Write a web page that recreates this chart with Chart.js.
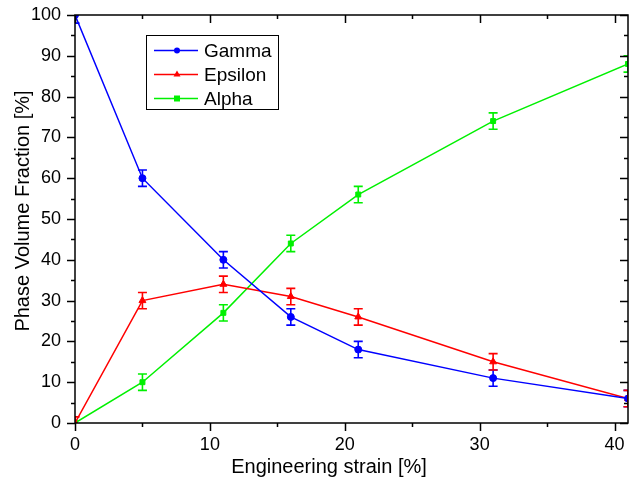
<!DOCTYPE html>
<html>
<head>
<meta charset="utf-8">
<script src="https://cdn.jsdelivr.net/npm/chart.js@4"></script>
<style>
  html, body { margin: 0; padding: 0; background: #fff; }
  #wrap { width: 630px; height: 487px; }
</style>
</head>
<body>
<div id="wrap"><canvas id="myChart"></canvas></div>
<script>
const strain = [0, 5, 11, 16, 21, 31, 41];
const gamma = [100, 60, 40, 26, 18, 11, 6];
const epsilon = [0, 30, 34, 31, 26, 15, 6];
const alpha = [0, 10, 27, 44, 56, 74, 88];
const gammaErr = [2, 2, 2, 2, 2, 2, 2];
const epsilonErr = [1.5, 2, 2, 2, 2, 2, 2];
const alphaErr = [0, 2, 2, 2, 2, 2, 2];
const xTicks = [0, 10, 20, 30, 40];

const FONT = "'Liberation Sans', Arial, sans-serif";

function toPoints(ys) {
    return strain.map((x, i) => ({ x: x, y: ys[i] }));
}

// vertical error bars with caps
const errorBars = {
    id: "errorBars",
    afterDatasetsDraw(chart) {
        const ctx = chart.ctx;
        const area = chart.chartArea;
        const xs = chart.scales.x, ys = chart.scales.y;
        ctx.save();
        ctx.beginPath();
        ctx.rect(area.left, area.top, area.right - area.left, area.bottom - area.top);
        ctx.clip();
        chart.data.datasets.forEach(ds => {
            ctx.strokeStyle = ds.borderColor;
            ctx.lineWidth = 1.6;
            ds.data.forEach((p, i) => {
                const e = ds.errors[i];
                if (!e) return;
                const px = xs.getPixelForValue(p.x);
                const top = ys.getPixelForValue(p.y + e);
                const bot = ys.getPixelForValue(p.y - e);
                ctx.beginPath();
                ctx.moveTo(px, top); ctx.lineTo(px, bot);
                ctx.moveTo(px - 4.5, top); ctx.lineTo(px + 4.5, top);
                ctx.moveTo(px - 4.5, bot); ctx.lineTo(px + 4.5, bot);
                ctx.stroke();
            });
        });
        ctx.restore();
    }
};

// frame, ticks, axis titles and legend box
const frame = {
    id: "frame",
    afterDraw(chart) {
        const ctx = chart.ctx;
        const a = chart.chartArea;
        const xs = chart.scales.x, ys = chart.scales.y;
        ctx.save();
        ctx.strokeStyle = "#000";
        ctx.lineWidth = 1.5;
        ctx.strokeRect(a.left, a.top, a.right - a.left, a.bottom - a.top);
        ctx.beginPath();
        for (let v = 0; v <= 41; v += 5) {
            const px = Math.round(xs.getPixelForValue(v)) + 0.5;
            const len = v % 10 === 0 ? 8 : 4;
            ctx.moveTo(px, a.bottom); ctx.lineTo(px, a.bottom + len);
            ctx.moveTo(px, a.top); ctx.lineTo(px, a.top + len);
        }
        for (let v = 0; v <= 100; v += 5) {
            const py = Math.round(ys.getPixelForValue(v)) + 0.5;
            const len = v % 10 === 0 ? 8 : 4;
            ctx.moveTo(a.left, py); ctx.lineTo(a.left - len, py);
            ctx.moveTo(a.right, py); ctx.lineTo(a.right - len, py);
        }
        ctx.stroke();

        // axis titles
        ctx.fillStyle = "#000";
        ctx.font = "20px " + FONT;
        ctx.textAlign = "center";
        ctx.textBaseline = "middle";
        ctx.fillText("Engineering strain [%]", 329, 467);
        ctx.save();
        ctx.translate(23, 211);
        ctx.rotate(-Math.PI / 2);
        ctx.fillText("Phase Volume Fraction [%]", 0, 0);
        ctx.restore();

        // legend
        const bx = 146, by = 35, bw = 132, bh = 74;
        ctx.fillStyle = "#fff";
        ctx.fillRect(bx, by, bw, bh);
        ctx.lineWidth = 1;
        ctx.strokeStyle = "#000";
        ctx.strokeRect(bx + 0.5, by + 0.5, bw, bh);
        ctx.font = "19px " + FONT;
        ctx.textAlign = "left";
        chart.data.datasets.forEach((ds, i) => {
            const y = by + 15.5 + i * 24;
            ctx.strokeStyle = ds.borderColor;
            ctx.lineWidth = 1.5;
            ctx.beginPath();
            ctx.moveTo(bx + 8, y); ctx.lineTo(bx + 52, y);
            ctx.stroke();
            ctx.fillStyle = ds.borderColor;
            ctx.beginPath();
            if (ds.pointStyle === "circle") {
                ctx.arc(bx + 31, y, 3, 0, Math.PI * 2);
            } else if (ds.pointStyle === "triangle") {
                ctx.moveTo(bx + 31, y - 4); ctx.lineTo(bx + 34.5, y + 2); ctx.lineTo(bx + 27.5, y + 2);
                ctx.closePath();
            } else {
                ctx.rect(bx + 28, y - 3, 6, 6);
            }
            ctx.fill();
            ctx.fillStyle = "#000";
            ctx.fillText(ds.label, bx + 58, y + 1);
        });
        ctx.restore();
    }
};

const ctx = document.getElementById("myChart").getContext("2d");
new Chart(ctx, {
    type: "line",
    data: {
        datasets: [
            { label: "Gamma", data: toPoints(gamma), errors: gammaErr, borderColor: "#0000ff", backgroundColor: "#0000ff", pointStyle: "circle", pointRadius: 3.5 },
            { label: "Epsilon", data: toPoints(epsilon), errors: epsilonErr, borderColor: "#ff0000", backgroundColor: "#ff0000", pointStyle: "triangle", pointRadius: 4 },
            { label: "Alpha", data: toPoints(alpha), errors: alphaErr, borderColor: "#00f000", backgroundColor: "#00f000", pointStyle: "rect", pointRadius: 3.5 }
        ]
    },
    options: {
        responsive: true,
        maintainAspectRatio: false,
        animation: false,
        elements: { line: { borderWidth: 1.5, tension: 0 }, point: { borderWidth: 1 } },
        layout: { autoPadding: false, padding: { left: 0, right: 2, top: 15, bottom: 0 } },
        plugins: { legend: { display: false }, tooltip: { enabled: false } },
        scales: {
            x: {
                type: "linear",
                min: 0, max: 41,
                grid: { display: false, drawTicks: false },
                border: { display: false },
                afterBuildTicks(scale) { scale.ticks = xTicks.map(v => ({ value: v })); },
                ticks: { color: "#000", font: { family: FONT, size: 18 }, padding: 11, maxRotation: 0 },
                afterFit(scale) {
                    scale.height = 64;
                    scale.paddingLeft = 0;
                    scale.paddingRight = 0;
                }
            },
            y: {
                min: 0, max: 100,
                grid: { display: false, drawTicks: false },
                border: { display: false },
                ticks: { stepSize: 10, color: "#000", font: { family: FONT, size: 18 }, padding: 14 },
                afterFit(scale) {
                    scale.width = 75;
                    scale.paddingTop = 0;
                    scale.paddingBottom = 0;
                }
            }
        }
    },
    plugins: [errorBars, frame]
});
</script>
</body>
</html>
